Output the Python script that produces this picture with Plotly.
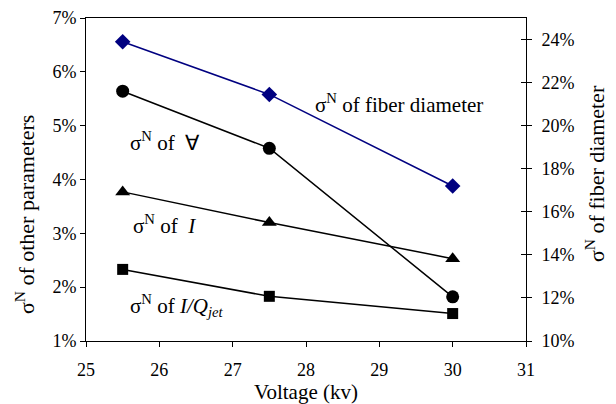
import plotly.graph_objects as go

voltage = [25.5, 27.5, 30]
fiber_diameter = [23.9, 21.45, 17.2]   # right axis, %
sigma_forall = [5.64, 4.58, 1.82]      # left axis, %
sigma_I = [3.77, 3.2, 2.53]
sigma_IQ = [2.33, 1.83, 1.51]

left_ticks = [1, 2, 3, 4, 5, 6, 7]
right_ticks = [10, 12, 14, 16, 18, 20, 22, 24]
x_ticks = [25, 26, 27, 28, 29, 30, 31]

FONT = "Liberation Serif"

fig = go.Figure()
fig.add_trace(go.Scatter(x=voltage, y=sigma_forall, mode="lines+markers",
                         line=dict(color="black", width=1.5),
                         marker=dict(symbol="circle", size=13, color="black")))
fig.add_trace(go.Scatter(x=voltage, y=sigma_I, mode="lines+markers",
                         line=dict(color="black", width=1.5),
                         marker=dict(symbol="triangle-up", size=13, color="black")))
fig.add_trace(go.Scatter(x=voltage, y=sigma_IQ, mode="lines+markers",
                         line=dict(color="black", width=1.5),
                         marker=dict(symbol="square", size=11, color="black")))
fig.add_trace(go.Scatter(x=voltage, y=fiber_diameter, mode="lines+markers", yaxis="y2",
                         line=dict(color="#000080", width=1.5),
                         marker=dict(symbol="diamond", size=12, color="#000080")))

annots = [
    dict(x=28.1, y=5.42, text="σ<sup>N</sup> of fiber diameter"),
    dict(x=25.57, y=4.71, text="σ<sup>N</sup> of  ∀"),
    dict(x=25.62, y=3.17, text="σ<sup>N</sup> of  <i>I</i>"),
    dict(x=25.57, y=1.66, text="σ<sup>N</sup> of <i>I/Q<sub>jet</sub></i>"),
]
for a in annots:
    fig.add_annotation(xref="x", yref="y", showarrow=False, xanchor="left", yanchor="middle",
                       font=dict(family=FONT, size=21, color="black"), **a)

# axis titles placed like the original (off-centre, large)
fig.add_annotation(xref="paper", yref="paper", x=-0.1386, y=0.393, textangle=-90,
                   text="σ<sup>N</sup> of other parameters", showarrow=False,
                   xanchor="center", yanchor="middle",
                   font=dict(family=FONT, size=22, color="black"))
fig.add_annotation(xref="paper", yref="paper", x=1.157, y=0.517, textangle=-90,
                   text="σ<sup>N</sup> of fiber diameter", showarrow=False,
                   xanchor="center", yanchor="middle",
                   font=dict(family=FONT, size=22, color="black"))

TICKF = dict(family=FONT, size=18, color="black")
TITLEF = dict(family=FONT, size=21, color="black")

fig.update_layout(
    width=608, height=396,
    margin=dict(l=78, r=90, t=10, b=63),
    paper_bgcolor="white", plot_bgcolor="white",
    showlegend=False,
    font=dict(family=FONT, size=18, color="black"),
    xaxis=dict(range=[25, 31], tickvals=x_ticks, ticktext=[str(t) for t in x_ticks],
               showline=True, linecolor="black", linewidth=1, mirror=True, automargin=False,
               ticks="outside", ticklen=5, tickcolor="black", showgrid=False, zeroline=False,
               ticklabelstandoff=7,
               title=dict(text="Voltage (kv)", font=TITLEF, standoff=2),
               tickfont=TICKF),
    yaxis=dict(range=[1, 7], tickvals=left_ticks, ticktext=[f"{t}%" for t in left_ticks],
               showline=True, linecolor="black", linewidth=1, automargin=False,
               ticks="outside", ticklen=5, tickcolor="black", showgrid=False, zeroline=False,
               tickfont=TICKF),
    yaxis2=dict(range=[10, 25], tickvals=right_ticks, ticktext=[f"{t}%" for t in right_ticks],
                overlaying="y", side="right", automargin=False,
                showline=True, linecolor="black", linewidth=1,
                ticks="outside", ticklen=5, tickcolor="black", showgrid=False, zeroline=False,
                ticklabelstandoff=6,
                tickfont=TICKF),
    yaxis3=dict(range=[10, 25], tickvals=right_ticks, overlaying="y", side="right",
                showticklabels=False, ticks="inside", ticklen=5, tickcolor="black",
                showline=False, showgrid=False, zeroline=False, automargin=False),
)
# invisible trace to activate the inside-tick overlay axis
fig.add_trace(go.Scatter(x=[None], y=[None], yaxis="y3", showlegend=False, hoverinfo="skip"))

fig.write_html("out.html")
